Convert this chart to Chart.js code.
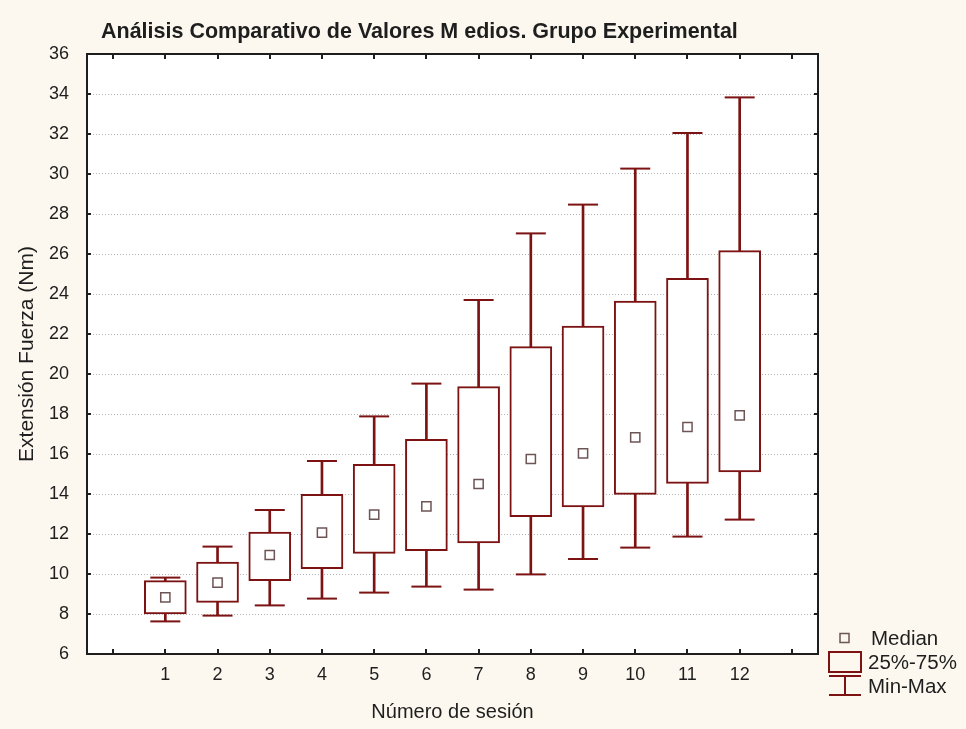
<!DOCTYPE html>
<html>
<head>
<meta charset="utf-8">
<script src="https://cdn.jsdelivr.net/npm/chart.js@4/dist/chart.umd.min.js"></script>
<style>
  html, body { margin: 0; padding: 0; background: #fcf8ef; }
  #wrap { width: 966px; height: 729px; }
</style>
</head>
<body>
<div id="wrap"><canvas id="chart" width="966" height="729"></canvas></div>
<script>
// Sessions and per-session summary statistics (Nm)
const sessions   = [1, 2, 3, 4, 5, 6, 7, 8, 9, 10, 11, 12];
const minVals    = [7.63, 7.92, 8.43, 8.77, 9.07, 9.37, 9.22, 9.98, 10.75, 11.32, 11.87, 12.72];
const q1Vals     = [8.00, 8.58, 9.67, 10.27, 11.03, 11.17, 11.55, 12.87, 13.35, 13.98, 14.53, 15.10];
const medianVals = [8.83, 9.57, 10.95, 12.07, 12.97, 13.38, 14.50, 15.75, 16.03, 16.83, 17.35, 17.93];
const q3Vals     = [9.67, 10.60, 12.10, 13.98, 15.48, 16.73, 19.37, 21.37, 22.40, 23.65, 24.78, 26.17];
const maxVals    = [9.82, 11.37, 13.20, 15.65, 17.88, 19.52, 23.70, 27.03, 28.47, 30.27, 32.05, 33.83];

// Axis tick positions (x ticks beyond the sessions stay unlabeled)
const xTickValues = [0, 1, 2, 3, 4, 5, 6, 7, 8, 9, 10, 11, 12, 13];
const legendLabels = ['Median', '25%-75%', 'Min-Max'];

const chartTitle = 'Análisis Comparativo de Valores M edios. Grupo Experimental';
const xTitle = 'Número de sesión';
const yTitle = 'Extensión Fuerza (Nm)';

const BOX = '#7c1212';
const MED = '#6e5555';
const INK = '#1e1e1e';
const FONT = '"Liberation Sans", Arial, sans-serif';

// Cream paper with a white plotting area
const paperPlugin = {
  id: 'paper',
  beforeDraw(chart) {
    const { ctx, chartArea: a } = chart;
    ctx.save();
    ctx.fillStyle = '#fcf8ef';
    ctx.fillRect(0, 0, chart.width, chart.height);
    ctx.fillStyle = '#ffffff';
    ctx.fillRect(a.left, a.top, a.right - a.left, a.bottom - a.top);
    ctx.restore();
  }
};

// Plot frame with inward-pointing tick marks on all four sides
const framePlugin = {
  id: 'frame',
  afterDatasetsDraw(chart) {
    const { ctx, chartArea: a, scales: { x, y } } = chart;
    ctx.save();
    ctx.strokeStyle = INK;
    ctx.lineWidth = 2;
    ctx.beginPath();
    x.ticks.forEach(t => {
      const px = Math.round(x.getPixelForValue(t.value));
      ctx.moveTo(px, a.bottom); ctx.lineTo(px, a.bottom - 5);
      ctx.moveTo(px, a.top);    ctx.lineTo(px, a.top + 5);
    });
    y.ticks.forEach(t => {
      const py = Math.round(y.getPixelForValue(t.value));
      ctx.moveTo(a.left, py);  ctx.lineTo(a.left + 4, py);
      ctx.moveTo(a.right, py); ctx.lineTo(a.right - 4, py);
    });
    ctx.stroke();
    ctx.strokeRect(a.left, a.top, a.right - a.left, a.bottom - a.top);
    ctx.restore();
  }
};

// Bold heading above the plot
const headingPlugin = {
  id: 'heading',
  afterDraw(chart) {
    const { ctx } = chart;
    ctx.save();
    ctx.fillStyle = INK;
    ctx.font = 'bold 21.5px ' + FONT;
    ctx.textBaseline = 'middle';
    ctx.textAlign = 'left';
    ctx.fillText(chartTitle, 101, 32);
    ctx.restore();
  }
};

// Key for median marker, quartile box and min-max whiskers
const keyPlugin = {
  id: 'key',
  afterDraw(chart) {
    const { ctx } = chart;
    ctx.save();
    // median marker
    ctx.strokeStyle = MED;
    ctx.lineWidth = 1.5;
    ctx.strokeRect(840, 633.5, 9, 9);
    // quartile box
    ctx.strokeStyle = BOX;
    ctx.lineWidth = 2;
    ctx.strokeRect(829, 652, 32, 20);
    // whisker
    ctx.beginPath();
    ctx.moveTo(829, 676); ctx.lineTo(861, 676);
    ctx.moveTo(845, 676); ctx.lineTo(845, 695);
    ctx.moveTo(829, 695); ctx.lineTo(861, 695);
    ctx.stroke();
    ctx.fillStyle = INK;
    ctx.font = '20.5px ' + FONT;
    ctx.textBaseline = 'middle';
    ctx.textAlign = 'left';
    ctx.fillText(legendLabels[0], 871, 639);
    ctx.fillText(legendLabels[1], 868, 663);
    ctx.fillText(legendLabels[2], 868, 687);
    ctx.restore();
  }
};

const capPoints = sessions.map((s, i) => ({ x: s, y: maxVals[i] }))
  .concat(sessions.map((s, i) => ({ x: s, y: minVals[i] })));

new Chart(document.getElementById('chart'), {
  type: 'bar',
  data: {
    datasets: [
      {
        type: 'bar',
        label: 'Min-Max',
        data: sessions.map((s, i) => ({ x: s, y: [minVals[i], maxVals[i]] })),
        backgroundColor: BOX,
        borderWidth: 0,
        barThickness: 2,
        grouped: false,
        order: 4
      },
      {
        type: 'bar',
        label: '25%-75%',
        data: sessions.map((s, i) => ({ x: s, y: [q1Vals[i], q3Vals[i]] })),
        backgroundColor: '#ffffff',
        borderColor: BOX,
        borderWidth: 2,
        borderSkipped: false,
        barThickness: 42,
        grouped: false,
        order: 3
      },
      {
        type: 'scatter',
        label: 'Min-Max caps',
        data: capPoints,
        pointStyle: 'line',
        pointRadius: 15,
        pointBorderWidth: 2,
        borderColor: BOX,
        order: 2
      },
      {
        type: 'scatter',
        label: 'Median',
        data: sessions.map((s, i) => ({ x: s, y: medianVals[i] })),
        pointStyle: 'rect',
        pointRadius: 6.5,
        pointBorderWidth: 1.5,
        borderColor: MED,
        backgroundColor: '#ffffff',
        order: 1
      }
    ]
  },
  options: {
    responsive: false,
    animation: false,
    devicePixelRatio: 1,
    layout: { padding: { left: 0, top: 54, right: 148, bottom: 0 } },
    plugins: {
      legend: { display: false },
      tooltip: { enabled: false },
      title: { display: false }
    },
    scales: {
      x: {
        type: 'linear',
        min: -0.5,
        max: 13.5,
        offset: false,
        afterBuildTicks: s => { s.ticks = xTickValues.map(v => ({ value: v })); },
        afterFit: s => { s.height = 75; },
        grid: { display: false, drawTicks: false },
        border: { display: false },
        ticks: {
          padding: 10,
          color: INK,
          font: { family: FONT, size: 18 },
          maxRotation: 0,
          autoSkip: false,
          callback: v => sessions.includes(v) ? String(v) : ''
        },
        title: {
          display: true,
          text: xTitle,
          color: INK,
          font: { family: FONT, size: 20 },
          padding: { top: 0, bottom: 5 }
        }
      },
      y: {
        min: 6,
        max: 36,
        afterFit: s => { s.width = 87; },
        ticks: {
          stepSize: 2,
          padding: 18,
          color: INK,
          font: { family: FONT, size: 18 }
        },
        grid: { color: '#b4b4b4', lineWidth: 1, drawTicks: false },
        border: { display: false, dash: [1, 2] },
        title: {
          display: true,
          text: yTitle,
          color: INK,
          font: { family: FONT, size: 21 },
          padding: { top: 15, bottom: 0 }
        }
      }
    }
  },
  plugins: [paperPlugin, framePlugin, headingPlugin, keyPlugin]
});
</script>
</body>
</html>
